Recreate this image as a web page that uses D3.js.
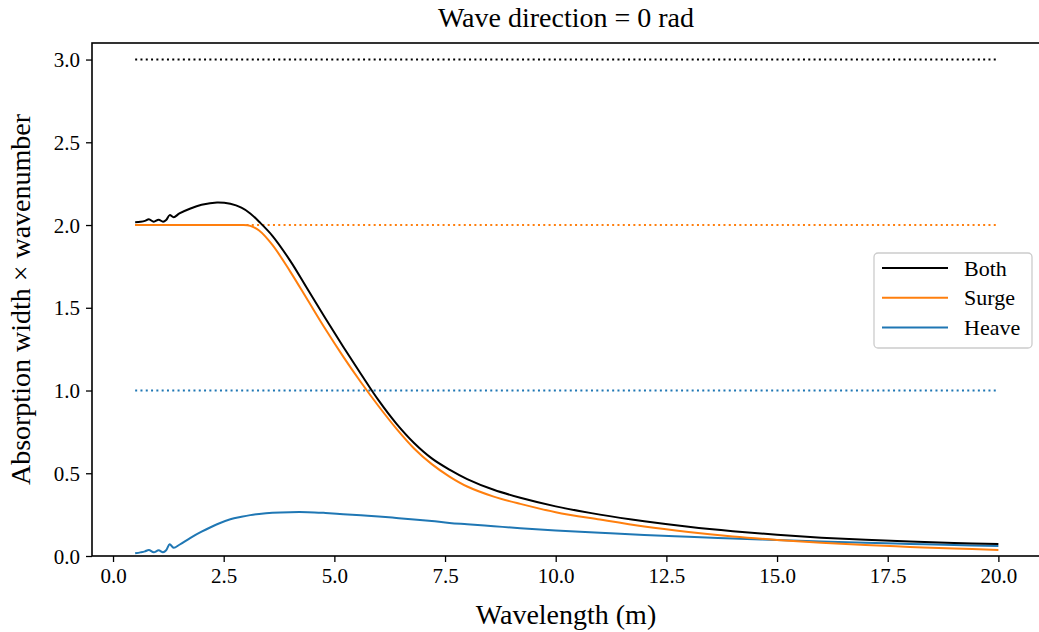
<!DOCTYPE html>
<html>
<head>
<meta charset="utf-8">
<script src="https://cdn.jsdelivr.net/npm/d3@7"></script>
<style>
  html, body { margin: 0; padding: 0; background: #fff; }
  svg { display: block; font-family: "Liberation Serif", "DejaVu Serif", serif; }
</style>
</head>
<body>
<svg id="chart" width="1039" height="632"></svg>
<script>
// Wavelength samples (m)
const wavelength = [0.5, 0.62, 0.72, 0.81, 0.92, 1.03, 1.13, 1.2, 1.28, 1.37, 1.5, 1.75, 2.0, 2.35, 2.65,
  2.9, 3.1, 3.3, 3.6, 4.0, 4.4, 4.8, 5.2, 5.6, 6.0, 6.4, 6.8, 7.2, 7.6, 8.0, 8.6, 9.2, 10,
  11, 12, 13, 14, 15, 16, 17, 18, 19, 20];

// Absorption width x wavenumber for each mode of motion
const both = [2.017, 2.02, 2.025, 2.035, 2.02, 2.032, 2.02, 2.03, 2.06, 2.047, 2.07, 2.10, 2.122, 2.136, 2.128,
  2.105, 2.07, 2.02, 1.935, 1.785, 1.61, 1.435, 1.265, 1.10, 0.94, 0.80, 0.683, 0.59, 0.522, 0.465, 0.40, 0.352, 0.30,
  0.25, 0.21, 0.177, 0.15, 0.128, 0.111, 0.098, 0.087, 0.079, 0.072];
const surge = [2.0, 2.0, 2.0, 2.0, 2.0, 2.0, 2.0, 2.0, 2.0, 2.0, 2.0, 2.0, 2.0, 2.0, 2.0,
  2.0, 1.995, 1.967, 1.88, 1.72, 1.545, 1.37, 1.205, 1.05, 0.905, 0.77, 0.65, 0.555, 0.48, 0.42, 0.359, 0.315, 0.265,
  0.22, 0.178, 0.145, 0.118, 0.097, 0.08, 0.066, 0.055, 0.045, 0.037];
const heave = [0.016, 0.022, 0.028, 0.036, 0.022, 0.034, 0.022, 0.035, 0.071, 0.05, 0.068, 0.11, 0.147, 0.192, 0.222,
  0.237, 0.247, 0.254, 0.261, 0.265, 0.265, 0.26, 0.253, 0.246, 0.239, 0.23, 0.221, 0.211, 0.20, 0.192, 0.18, 0.168, 0.154,
  0.14, 0.127, 0.116, 0.106, 0.097, 0.088, 0.08, 0.073, 0.066, 0.06];

// Theoretical maxima (dotted reference lines)
const limitValues = [3, 2, 1];
const limitRange = [0.5, 20];

const seriesNames = ["Both", "Surge", "Heave"];
const seriesColors = ["#000000", "#ff7f0e", "#1f77b4"];
const seriesValues = [both, surge, heave];

const xTicks = [0, 2.5, 5, 7.5, 10, 12.5, 15, 17.5, 20];
const yTicks = [0, 0.5, 1, 1.5, 2, 2.5, 3];

const titleText = "Wave direction = 0 rad";
const xLabel = "Wavelength (m)";
const yLabel = "Absorption width \u00d7 wavenumber";

// Plot area
const plotLeft = 92, plotRight = 1040, plotTop = 43, plotBottom = 556;

const svg = d3.select("#chart");
const x = d3.scaleLinear().domain([-0.475, 20.94]).range([plotLeft, plotRight]);
const y = d3.scaleLinear().domain([0, 3.1]).range([plotBottom, plotTop]);

const plot = svg.append("g");
plot.append("clipPath").attr("id", "clip")
  .append("rect").attr("x", plotLeft).attr("y", plotTop)
  .attr("width", plotRight - plotLeft).attr("height", plotBottom - plotTop);
const inner = plot.append("g").attr("clip-path", "url(#clip)");

// Dotted upper bounds
limitValues.forEach((v, i) => {
  inner.append("line")
    .attr("x1", x(limitRange[0])).attr("x2", x(limitRange[1]))
    .attr("y1", y(v)).attr("y2", y(v))
    .attr("stroke", seriesColors[i])
    .attr("stroke-width", 2)
    .attr("stroke-dasharray", "2,3.3");
});

// Curves
const line = d3.line()
  .x((d, i) => x(wavelength[i]))
  .y(d => y(d))
  .curve(d3.curveCatmullRom.alpha(0.5));

[2, 1, 0].forEach(k => {
  inner.append("path")
    .datum(seriesValues[k])
    .attr("fill", "none")
    .attr("stroke", seriesColors[k])
    .attr("stroke-width", 2)
    .attr("stroke-linejoin", "round")
    .attr("d", line);
});

// Axes
const xAxis = d3.axisBottom(x).tickValues(xTicks).tickFormat(d3.format(".1f")).tickSizeOuter(0).tickSize(6).tickPadding(5);
const yAxis = d3.axisLeft(y).tickValues(yTicks).tickFormat(d3.format(".1f")).tickSizeOuter(0).tickSize(6).tickPadding(6);

const gx = svg.append("g").attr("transform", `translate(0,${plotBottom})`).call(xAxis);
const gy = svg.append("g").attr("transform", `translate(${plotLeft},0)`).call(yAxis);
[gx, gy].forEach(g => {
  g.select(".domain").remove();
  g.selectAll(".tick line").attr("stroke", "#000").attr("stroke-width", 1.3);
  g.selectAll(".tick text").attr("fill", "#000").attr("font-size", 21)
    .attr("font-family", "Liberation Serif, DejaVu Serif, serif");
});
gy.selectAll(".tick text").attr("dy", "0.34em");
gx.selectAll(".tick text").attr("dy", "0.75em");

// Frame
svg.append("rect")
  .attr("x", plotLeft).attr("y", plotTop)
  .attr("width", plotRight - plotLeft).attr("height", plotBottom - plotTop)
  .attr("fill", "none").attr("stroke", "#000").attr("stroke-width", 1.6);

// Title and labels
svg.append("text")
  .attr("x", (plotLeft + plotRight) / 2).attr("y", 27)
  .attr("text-anchor", "middle").attr("font-size", 28)
  .text(titleText);

svg.append("text")
  .attr("x", (plotLeft + plotRight) / 2).attr("y", 624)
  .attr("text-anchor", "middle").attr("font-size", 28)
  .text(xLabel);

svg.append("text")
  .attr("transform", `translate(30,${(plotTop + plotBottom) / 2}) rotate(-90)`)
  .attr("text-anchor", "middle").attr("font-size", 28)
  .text(yLabel);

// Legend
const lg = svg.append("g");
lg.append("rect")
  .attr("x", 874).attr("y", 253)
  .attr("width", 158).attr("height", 95)
  .attr("rx", 4).attr("ry", 4)
  .attr("fill", "#fff").attr("fill-opacity", 0.8)
  .attr("stroke", "#cccccc").attr("stroke-width", 1.3);
seriesNames.forEach((name, i) => {
  const cy = 268 + i * 29.7;
  lg.append("line")
    .attr("x1", 882).attr("x2", 948)
    .attr("y1", cy).attr("y2", cy)
    .attr("stroke", seriesColors[i]).attr("stroke-width", 2);
  lg.append("text")
    .attr("x", 964).attr("y", cy).attr("dy", "0.35em")
    .attr("font-size", 22)
    .text(name);
});
</script>
</body>
</html>
